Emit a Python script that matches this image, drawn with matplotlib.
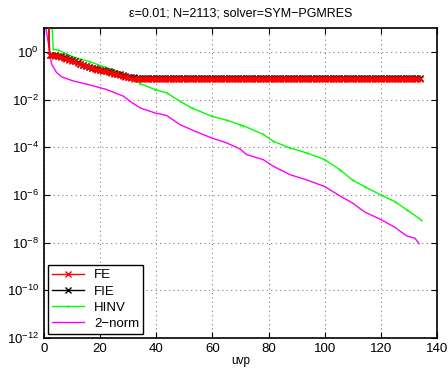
import matplotlib
matplotlib.use("Agg")
import matplotlib.pyplot as plt
import numpy as np

plt.rcParams['font.family'] = ['Liberation Sans', 'DejaVu Sans']
plt.rcParams['mathtext.fontset'] = 'custom'
plt.rcParams['mathtext.rm'] = 'Liberation Sans'
plt.rcParams['mathtext.it'] = 'Liberation Sans'

# FE / FIE residuals, one value per iteration (1..134)
fe_head = [1e4, 0.74, 0.72, 0.70, 0.66, 0.62, 0.57, 0.52, 0.47, 0.43,
           0.40, 0.34, 0.30, 0.27, 0.245, 0.225, 0.21, 0.195, 0.18, 0.17,
           0.16, 0.15, 0.14, 0.13, 0.122, 0.114, 0.106, 0.099, 0.092, 0.085,
           0.079, 0.075]
fe_tail = [0.072] * 102
fie_head = [1e4, 0.76, 0.74, 0.72, 0.68, 0.64, 0.59, 0.54, 0.49, 0.45,
            0.42, 0.36, 0.31, 0.28, 0.255, 0.235, 0.22, 0.205, 0.19, 0.18,
            0.17, 0.16, 0.15, 0.14, 0.13, 0.122, 0.114, 0.106, 0.099, 0.092,
            0.087, 0.084]
fie_tail = [0.082] * 102
fe = fe_head + fe_tail
fie = fie_head + fie_tail
it = np.arange(1, len(fe) + 1)

# HINV (green), log10 values read at selected iterations
hinv_x = [1, 2, 3.3, 5.1, 6.9, 10.4, 16.4, 22.3, 27, 30.6, 34.2, 39.5, 43.7,
          48.4, 52.6, 59.7, 65.1, 69.8, 71, 78.1, 81.7, 87.6, 93.6, 100, 105.4,
          109.9, 114.3, 120, 125, 129.2, 134.3]
hinv_log = [4, 3, 0.11, 0.07, -0.03, -0.21, -0.42, -0.66, -0.84, -1.09, -1.33,
            -1.58, -1.72, -2.07, -2.35, -2.70, -2.87, -3.05, -3.10, -3.46, -3.75,
            -4.03, -4.24, -4.52, -4.94, -5.38, -5.66, -6.0, -6.28, -6.62, -7.04]

# 2-norm (magenta), log10 values read at selected iterations
norm_x = [0.7, 2.7, 4.5, 6.3, 10.4, 16.4, 22.3, 28.3, 30.6, 34.2, 39.5, 43.7,
          48.4, 53.8, 59.7, 65.1, 69.8, 72.2, 78.1, 81.7, 87.6, 93.6, 100, 105.4,
          109.9, 114.3, 120, 125, 129.2, 132.2, 133.6]
norm_log = [1.0, -0.52, -0.87, -1.05, -1.22, -1.39, -1.58, -1.86, -2.07, -2.35,
            -2.56, -2.67, -3.05, -3.33, -3.61, -3.82, -4.07, -4.31, -4.52, -4.80,
            -5.15, -5.37, -5.65, -6.04, -6.34, -6.72, -7.03, -7.36, -7.72, -7.82,
            -8.05]

fig = plt.figure(figsize=(4.48, 3.75), dpi=100)
ax = fig.add_axes([44/448, 1-338/375, 393/448, 310/375])

ax.semilogy(it, fie, color='black', marker='x', ms=4.5, mew=1, lw=1, label='FIE', zorder=3)
ax.semilogy(it, fe, color='red', marker='x', ms=4.5, mew=1, lw=1, label='FE', zorder=4)
ax.semilogy(hinv_x, 10.0 ** np.array(hinv_log), color=(0, 1, 0), lw=1,
            marker='.', ms=1, label='HINV', zorder=2)
ax.semilogy(norm_x, 10.0 ** np.array(norm_log), color=(1, 0, 1), lw=1,
            label='2\u2212norm', zorder=2)

ax.set_xlim(0, 140)
ax.set_ylim(1e-12, 1e1)
ax.set_xticks(range(0, 141, 20))
ax.set_yticks([10.0 ** k for k in range(-12, 1, 2)])
ax.set_yticklabels(['$10^{%s}$' % (('\u2212%d' % -k) if k < 0 else '%d' % k) for k in range(-12, 1, 2)])
ax.minorticks_off()
ax.tick_params(direction='in', top=True, right=True, labelsize=9.5, length=4, width=0.8)
ax.grid(True, linestyle=(0, (1, 3)), color='gray', lw=0.8)
for s in ax.spines.values():
    s.set_linewidth(1.2)

ax.set_title('\u03b5=0.01; N=2113; solver=SYM\u2212PGMRES', fontsize=9, pad=8)
ax.set_xlabel('uvp', fontsize=8.5, labelpad=0)

h, l = ax.get_legend_handles_labels()
order = [1, 0, 2, 3]
leg = ax.legend([h[i] for i in order], [l[i] for i in order], loc='lower left',
                fontsize=9.5, fancybox=False, edgecolor='black', framealpha=1,
                borderaxespad=0.3, handlelength=2.4, labelspacing=0.3,
                borderpad=0.3)
leg.get_frame().set_linewidth(1.0)

fig.savefig('out.png', dpi=100)
